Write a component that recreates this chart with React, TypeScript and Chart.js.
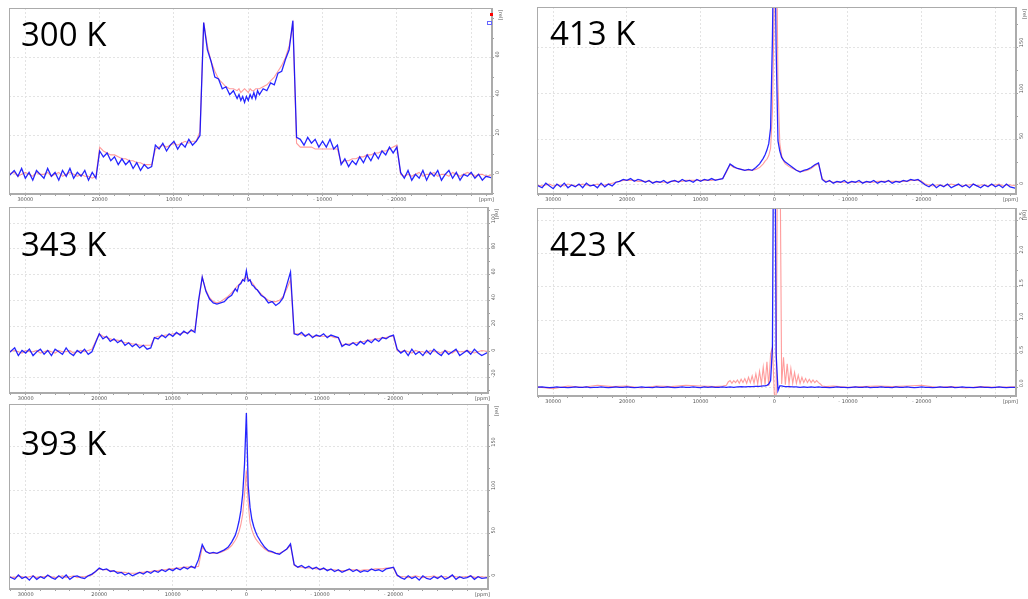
import React, { useEffect, useRef } from 'react';
import { Chart, registerables } from 'chart.js';

Chart.register(...registerables);

// chemical shift grid (ppm) shared by most spectra
const shift = [
  32500, 31500, 31000, 30500, 30000, 29500, 29000, 28500, 28000, 27500,
  27000, 26500, 26000, 25500, 25000, 24500, 24000, 23500, 23000, 22500,
  22000, 21500, 21000, 20500, 20000, 19500, 19000, 18500, 18000, 17500,
  17000, 16500, 16000, 15500, 15000, 14500, 14000, 13500, 13000, 12500,
  12000, 11500, 11000, 10500, 10000, 9500, 9000, 8500, 8000, 7500,
  7000, 6500, 6000, 5500, 5000, 4500, 4000, 3500, 3000, 2500,
  2000, 1500, 1250, 1000, 750, 500, 250, 0, -250, -500,
  -750, -1000, -1250, -1500, -2000, -2500, -3000, -3500, -4000, -4500,
  -5000, -5500, -6000, -6500, -7000, -7500, -8000, -8500, -9000, -9500,
  -10000, -10500, -11000, -11500, -12000, -12500, -13000, -13500, -14000, -14500,
  -15000, -15500, -16000, -16500, -17000, -17500, -18000, -18500, -19000, -19500,
  -20000, -20500, -21000, -21500, -22000, -22500, -23000, -23500, -24000, -24500,
  -25000, -25500, -26000, -26500, -27000, -27500, -28000, -28500, -29000, -29500,
  -30000, -30500, -31000, -31500, -32000, -33000,
];

// 300 K
const blue300 = [
  -2, 2, -1, 3, -2, 1, -3, 2, 0, -2,
  3, -1, 1, -3, 2, -1, 3, -2, 1, -1,
  2, -3, 1, -2, 12, 9, 11, 7, 9, 5,
  8, 5, 7, 3, 6, 2, 5, 3, 4, 15,
  13, 16, 12, 15, 17, 13, 16, 14, 18, 15,
  17, 20, 78, 64, 58, 50, 49, 44, 45, 41,
  43, 39, 41, 38, 40, 37, 40, 38, 41, 39,
  42, 39, 43, 41, 44, 43, 47, 46, 52, 53,
  59, 64, 79, 19, 18, 15, 19, 16, 18, 14,
  17, 14, 18, 13, 15, 5, 8, 4, 7, 5,
  9, 6, 10, 7, 11, 8, 12, 10, 14, 11,
  14, 1, -2, 2, -3, 0, -2, 2, -3, 1,
  -1, 2, -3, 0, 2, -2, 1, -3, 0, -1,
  1, -2, 0, -3, -1, -2,
];
const red300 = [
  0, 1, -1, 0, 1, 0, -1, 1, 0, 0,
  1, -1, 0, 1, -1, 0, 1, 0, -1, 0,
  -1, -1, -2, -1, 14, 12, 11, 10, 10, 9,
  8, 8, 7, 7, 6, 6, 5, 5, 5, 13,
  14, 15, 14, 15, 16, 15, 16, 17, 16, 17,
  17, 22, 78, 66, 58, 53, 49, 47, 45, 44,
  44, 43, 44, 42, 43, 44, 43, 42, 44, 43,
  43, 44, 44, 44, 45, 46, 48, 50, 53, 56,
  60, 66, 77, 16, 14, 14, 14, 14, 13, 13,
  13, 13, 13, 13, 13, 6, 7, 7, 8, 8,
  9, 9, 10, 10, 11, 11, 12, 12, 13, 14,
  15, 0, -1, 0, -1, 0, 1, -1, 0, 0,
  1, -1, 0, 0, -1, 1, 0, -1, 0, 1,
  0, -1, 0, 0, -1, 0,
];

// 343 K
const blue343 = [
  -2, 3, -3, 1, -1, 2, -3, 0, 2, -2,
  1, -3, 2, 0, -2, 3, -1, -3, 1, -1,
  2, -2, 0, 7, 14, 10, 12, 8, 10, 7,
  9, 5, 7, 4, 6, 3, 5, 2, 3, 11,
  10, 13, 11, 14, 12, 15, 13, 16, 14, 17,
  15, 40, 58, 47, 41, 38, 37, 38, 39, 42,
  44, 49, 47, 52, 53, 56, 55, 63, 55, 56,
  52, 51, 49, 48, 44, 42, 38, 39, 36, 38,
  42, 52, 62, 14, 13, 15, 12, 14, 11, 13,
  12, 14, 11, 13, 12, 11, 4, 6, 5, 7,
  5, 8, 6, 9, 7, 10, 8, 11, 10, 12,
  13, 2, -1, 1, -3, 2, -2, 0, -3, 1,
  -2, 2, -1, -3, 1, -2, 0, 2, -3, -1,
  1, -2, 2, -1, -3, 0,
];
const red343 = [
  0, 1, 0, -1, 1, 0, 0, 1, -1, 0,
  1, 0, -1, 1, 0, 0, 1, -1, 0, 1,
  0, 1, 2, 8, 14, 12, 11, 10, 9, 9,
  8, 7, 7, 6, 6, 5, 5, 5, 5, 11,
  12, 12, 13, 13, 14, 14, 14, 15, 15, 16,
  17, 38, 58, 48, 42, 39, 38, 39, 41, 43,
  46, 49, 51, 52, 54, 56, 57, 58, 57, 55,
  54, 52, 50, 48, 45, 42, 40, 39, 39, 40,
  43, 49, 56, 14, 14, 13, 13, 13, 12, 12,
  12, 12, 12, 12, 11, 11, 5, 6, 6, 7,
  7, 8, 8, 9, 9, 10, 10, 11, 11, 12,
  12, 1, 0, 1, 0, -1, 1, 0, 0, -1,
  1, 0, 0, -1, 1, 0, -1, 1, 0, 0,
  1, 0, -1, 0, 1, 0,
];

// 393 K
const blue393 = [
  1, -3, 2, -2, 0, -4, 1, -3, 0, -2,
  2, -1, -3, 1, -2, 2, -3, 0, 1, -1,
  -2, 1, 3, 6, 10, 8, 9, 6, 7, 4,
  5, 2, 4, 1, 3, 5, 3, 6, 4, 7,
  5, 8, 6, 9, 7, 10, 8, 11, 9, 12,
  10, 20, 37, 29, 27, 28, 27, 29, 31, 34,
  40, 48, 55, 64, 76, 95, 130, 189, 105, 80,
  66, 58, 52, 47, 40, 34, 30, 29, 27, 26,
  29, 32, 38, 14, 11, 13, 10, 12, 9, 11,
  8, 10, 7, 9, 6, 8, 5, 7, 9, 6,
  8, 5, 7, 6, 9, 7, 8, 6, 9, 10,
  11, 2, -1, -3, 1, -2, 0, -4, 1, -2,
  -3, 0, -2, 1, -3, -1, 2, -3, 0, -2,
  -1, 1, -3, 0, -2, -1,
];
const red393 = [
  0, -1, 1, 0, -1, 0, 1, -1, 0, 0,
  1, 0, -1, 0, 1, -1, 0, 1, -1, 0,
  0, 1, 2, 6, 9, 8, 8, 7, 6, 6,
  5, 5, 4, 4, 4, 5, 5, 6, 6, 7,
  7, 8, 8, 9, 9, 10, 10, 11, 11, 11,
  11, 12, 34, 29, 27, 27, 27, 28, 30, 32,
  36, 42, 46, 52, 60, 72, 95, 123, 85, 62,
  54, 48, 44, 41, 36, 32, 29, 28, 27, 27,
  29, 32, 36, 13, 11, 11, 10, 10, 10, 9,
  9, 9, 8, 8, 8, 7, 7, 7, 8, 8,
  8, 7, 8, 8, 8, 9, 9, 9, 10, 10,
  10, 1, 0, 0, -1, 0, 1, 0, -1, 0,
  0, 1, -1, 0, 0, -1, 1, 0, -1, 0,
  0, 1, -1, 0, 0, -1,
];

// 413 K
const blue413 = [
  1, -3, 2, -1, -4, 1, -2, 2, -3, 0,
  -2, 1, -3, 2, -1, 0, -3, 2, -2, 1,
  -1, 3, 4, 6, 5, 7, 4, 6, 5, 3,
  5, 2, 4, 3, 5, 2, 4, 5, 3, 6,
  4, 5, 3, 6, 4, 6, 5, 7, 5, 6,
  7, 15, 23, 20, 18, 17, 16, 17, 16, 19,
  23, 29, 33, 38, 45, 62, 160, 320, 150, 48,
  37, 30, 27, 25, 22, 19, 16, 14, 16, 17,
  19, 22, 24, 6, 3, 5, 2, 4, 3, 5,
  2, 4, 3, 5, 2, 4, 3, 5, 2, 4,
  3, 5, 2, 4, 3, 5, 4, 6, 5, 6,
  3, 0, -2, 1, -3, 0, -2, 1, -3, -1,
  1, -2, 0, -3, 1, -1, -3, 0, -2, 1,
  -2, 0, -3, 1, -2, -4,
];
const red413 = [
  0, -1, 0, 1, -1, 0, 0, -1, 1, 0,
  -1, 0, 1, 0, -1, 0, 1, 0, 0, 1,
  2, 3, 4, 5, 5, 5, 5, 4, 4, 4,
  4, 3, 3, 3, 3, 3, 4, 4, 4, 4,
  5, 5, 5, 5, 5, 5, 5, 5, 6, 6,
  7, 14, 22, 19, 18, 17, 16, 16, 16, 17,
  19, 23, 26, 28, 32, 40, 80, 200, 320, 110,
  45, 32, 26, 23, 20, 18, 16, 15, 15, 16,
  18, 21, 23, 7, 4, 4, 3, 3, 3, 3,
  3, 3, 3, 3, 3, 3, 3, 3, 4, 4,
  4, 4, 4, 4, 4, 4, 4, 5, 5, 5,
  4, 1, 0, -1, 0, 0, -1, 0, 1, 0,
  0, -1, 0, 0, 1, -1, 0, 0, -1, 0,
  0, 1, -1, 0, 0, -1,
];

// 423 K
const blue423 = [
  0, 0.005, 0, -0.005, 0, 0.005, 0, 0, -0.005, 0,
  0.005, 0, 0, 0.005, -0.005, 0, 0, 0.005, 0, -0.005,
  0, 0.005, 0, 0, 0.005, 0, -0.005, 0, 0.005, 0,
  0, -0.005, 0.005, 0, 0, 0.005, 0, -0.005, 0, 0.005,
  0, 0, 0.005, 0, -0.005, 0.005, 0, 0.005, 0, 0,
  0.005, 0, 0.005, 0, 0.005, 0.01, 0.005, 0.01, 0.01, 0.015,
  0.015, 0.02, 0.02, 0.03, 0.05, 0.1, 0.6, 6, 0.5, -0.05,
  0.02, 0.02, 0.015, 0.01, 0.01, 0.005, 0.005, 0, 0.005, 0,
  0.005, 0, 0.005, 0, 0, -0.005, 0, 0.005, 0, 0,
  -0.005, 0, 0.005, 0, 0, 0.005, -0.005, 0, 0, 0.005,
  0, 0, -0.005, 0.005, 0, 0, 0.005, 0, -0.005, 0,
  0.005, 0, 0, -0.005, 0, 0.005, 0, 0, 0.005, -0.005,
  0, 0.005, 0, 0, -0.005, 0, 0.005, 0, 0, -0.005,
  0, 0.005, 0, -0.005, 0, 0,
];
const shift423red = [
  32500, 30000, 28000, 26000, 24000, 22000, 20000, 18000, 16000, 14000, 12000, 10000, 8000, 7000,
  6500, 6250, 6000, 5750, 5500, 5250, 5000, 4750, 4500, 4250,
  4000, 3750, 3500, 3250, 3000, 2750, 2500, 2250, 2000, 1750,
  1500, 1250, 1000, 750, 500, 250, 0, -250, -500, -750,
  -1000, -1250, -1500, -1750, -2000, -2250, -2500, -2750, -3000, -3250,
  -3500, -3750, -4000, -4250, -4500, -4750, -5000, -5250, -5500, -5750,
  -6000, -6250,
  -6500, -7000, -8000, -10000, -12000, -14000, -16000, -18000, -20000, -22000, -24000, -26000, -28000, -30000, -33000,
];
const red423 = [
  0.01, -0.02, 0.02, 0, 0.03, 0.01, 0.02, -0.01, 0.02, 0.01, 0.03, 0.02, 0.01, 0.02,
  0.03, 0.08, 0.1, 0.06, 0.1, 0.07, 0.11, 0.06, 0.12, 0.07,
  0.13, 0.06, 0.15, 0.07, 0.17, 0.06, 0.2, 0.05, 0.24, 0.05,
  0.3, 0.04, 0.38, 0.02, 0.5, 0.6, -0.1, -0.15, 5, 4,
  0.05, 0.45, 0.04, 0.35, 0.05, 0.28, 0.06, 0.22, 0.06, 0.18,
  0.06, 0.15, 0.07, 0.13, 0.07, 0.12, 0.07, 0.11, 0.07, 0.1,
  0.07, 0.05,
  0.02, 0.01, 0.02, 0, 0.01, 0.02, 0.01, 0.02, 0.03, 0, 0.01, -0.01, 0.01, 0, 0.01,
];

// tick labels
const xLabelTicks = [30000, 20000, 10000, 0, -10000, -20000];
const xGridTicks = [30000, 20000, 10000, 0, -10000, -20000, -30000];
const yTicks300 = [0, 20, 40, 60];
const yTicks343 = [-20, 0, 20, 40, 60, 80, 100];
const yTicks393 = [0, 50, 100, 150];
const yTicks413 = [0, 50, 100, 150];
const yTicks423 = [0, 0.5, 1, 1.5, 2, 2.5];

const BLUE = 'rgba(0, 0, 255, 0.85)';
const RED = 'rgba(255, 90, 90, 0.6)';
const GRID = '#e3e3e3';
const AXIS_W = 12;
const AXIS_H = 12;

type Series = { xs: number[]; ys: number[]; color: string; width: number; order: number };
type PanelCfg = {
  label: string;
  left: number; top: number; right: number; bottom: number;
  xMin: number; xMax: number;
  yMin: number; yMax: number; yStep: number;
  yLabels: number[]; yDecimals: number;
  series: Series[];
  labelLeft: number; labelTop: number;
  marks?: boolean;
};

const framePlugin = {
  id: 'frame',
  afterDraw(chart: any, _args: any, opts: any) {
    const { ctx, chartArea: a } = chart;
    ctx.save();
    ctx.strokeStyle = '#ababab';
    ctx.lineWidth = 1;
    ctx.strokeRect(a.left + 0.5, a.top + 0.5, a.right - a.left - 1, a.bottom - a.top - 1);
    ctx.fillStyle = '#555';
    ctx.font = '5px "DejaVu Sans"';
    ctx.textAlign = 'right';
    ctx.textBaseline = 'middle';
    ctx.fillText('[ppm]', a.right + 2, a.bottom + 6);
    if (opts && opts.marks) {
      ctx.fillStyle = '#ff0000';
      ctx.fillRect(a.right - 2, a.top + 5, 3, 3);
      ctx.strokeStyle = '#6666ff';
      ctx.strokeRect(a.right - 4.5, a.top + 13.5, 4, 3);
    }
    ctx.fillStyle = '#555';
    ctx.translate(a.right + 8, a.top + 7);
    ctx.rotate(Math.PI / 2);
    ctx.textAlign = 'center';
    ctx.fillText('[rel]', 0, 0);
    ctx.restore();
  },
};

const near = (arr: number[], v: number) => arr.some((t) => Math.abs(t - v) < 1e-6);

function Panel({ cfg }: { cfg: PanelCfg }) {
  const ref = useRef<HTMLCanvasElement>(null);
  const W = cfg.right - cfg.left + 1 + AXIS_W;
  const H = cfg.bottom - cfg.top + 1 + AXIS_H;
  useEffect(() => {
    const chart = new Chart(ref.current as HTMLCanvasElement, {
      type: 'line',
      data: {
        datasets: cfg.series.map((s) => ({
          data: s.xs.map((x, i) => ({ x, y: s.ys[i] })),
          borderColor: s.color,
          borderWidth: s.width,
          pointRadius: 0,
          tension: 0,
          order: s.order,
          clip: 0,
        })),
      },
      options: {
        animation: false,
        responsive: false,
        devicePixelRatio: 1,
        events: [],
        layout: { padding: { left: 1, top: 1, right: 0, bottom: 0 } },
        plugins: {
          legend: { display: false },
          tooltip: { enabled: false },
          frame: { marks: !!cfg.marks },
        } as any,
        scales: {
          x: {
            type: 'linear',
            reverse: true,
            min: cfg.xMin,
            max: cfg.xMax,
            afterBuildTicks: (s: any) => {
              const t = [];
              for (let v = -32000; v <= 32000; v += 2000) {
                if (v >= cfg.xMin && v <= cfg.xMax) t.push({ value: v });
              }
              s.ticks = t;
            },
            afterFit: (s: any) => {
              s.height = AXIS_H;
              s.paddingLeft = 0;
              s.paddingRight = 0;
            },
            grid: {
              color: (c: any) => (c.tick && near(xGridTicks, c.tick.value) ? GRID : 'rgba(0,0,0,0)'),
              tickColor: '#a0a0a0',
              tickLength: 2,
              lineWidth: 1,
            },
            border: { color: '#ababab', dash: [2, 2] },
            ticks: {
              autoSkip: false,
              maxRotation: 0,
              minRotation: 0,
              padding: 1,
              color: '#555',
              font: { size: 5, family: 'DejaVu Sans' },
              callback: (v: any) => {
                const n = Number(v);
                if (!near(xLabelTicks, n)) return '';
                if (n === 0) return '0';
                return n < 0 ? '- ' + String(-n) : String(n);
              },
            },
          },
          y: {
            type: 'linear',
            position: 'right',
            min: cfg.yMin,
            max: cfg.yMax,
            afterBuildTicks: (s: any) => {
              const t = [];
              const start = Math.ceil(cfg.yMin / cfg.yStep);
              for (let k = start; k * cfg.yStep <= cfg.yMax; k++) t.push({ value: +(k * cfg.yStep).toFixed(6) });
              s.ticks = t;
            },
            afterFit: (s: any) => {
              s.width = AXIS_W;
              s.paddingTop = 0;
              s.paddingBottom = 0;
            },
            grid: {
              color: (c: any) => (c.tick && near(cfg.yLabels, c.tick.value) ? GRID : 'rgba(0,0,0,0)'),
              tickColor: '#a0a0a0',
              tickLength: 2,
              lineWidth: 1,
            },
            border: { color: '#ababab', dash: [2, 2] },
            ticks: {
              autoSkip: false,
              minRotation: 90,
              maxRotation: 90,
              padding: 4,
              color: '#555',
              font: { size: 5, family: 'DejaVu Sans' },
              callback: (v: any) => {
                const n = Number(v);
                return near(cfg.yLabels, n) ? n.toFixed(cfg.yDecimals) : '';
              },
            },
          },
        },
      } as any,
      plugins: [framePlugin],
    });
    return () => chart.destroy();
  }, []);
  return (
    <>
      <canvas
        ref={ref}
        width={W}
        height={H}
        style={{ position: 'absolute', left: cfg.left - 1, top: cfg.top - 1, width: W, height: H }}
      />
      <div
        style={{
          position: 'absolute',
          left: cfg.labelLeft,
          top: cfg.labelTop,
          fontFamily: '"Open Sans", sans-serif',
          fontSize: 33,
          lineHeight: '33px',
          color: '#000',
          whiteSpace: 'nowrap',
        }}
      >
        {cfg.label}
      </div>
    </>
  );
}

const pair = (xs: number[], blue: number[], red: number[], redXs?: number[]): Series[] => [
  { xs: redXs || xs, ys: red, color: RED, width: 1.1, order: 1 },
  { xs, ys: blue, color: BLUE, width: 1.3, order: 0 },
];

const panels: PanelCfg[] = [
  {
    label: '300 K', left: 9, top: 8, right: 492, bottom: 194,
    xMin: -32800, xMax: 32200, yMin: -10.1, yMax: 85.5, yStep: 10,
    yLabels: yTicks300, yDecimals: 0, series: pair(shift, blue300, red300),
    labelLeft: 21, labelTop: 17, marks: true,
  },
  {
    label: '343 K', left: 9, top: 207, right: 488, bottom: 393,
    xMin: -32850, xMax: 32270, yMin: -32.1, yMax: 112.6, yStep: 10,
    yLabels: yTicks343, yDecimals: 0, series: pair(shift, blue343, red343),
    labelLeft: 21, labelTop: 227,
  },
  {
    label: '393 K', left: 9, top: 404, right: 488, bottom: 589,
    xMin: -32850, xMax: 32270, yMin: -14.2, yMax: 199.4, yStep: 25,
    yLabels: yTicks393, yDecimals: 0, series: pair(shift, blue393, red393),
    labelLeft: 21, labelTop: 426,
  },
  {
    label: '413 K', left: 537, top: 7, right: 1016, bottom: 194,
    xMin: -32800, xMax: 32200, yMin: -9.8, yMax: 193.8, yStep: 25,
    yLabels: yTicks413, yDecimals: 0, series: pair(shift, blue413, red413),
    labelLeft: 550, labelTop: 16,
  },
  {
    label: '423 K', left: 537, top: 208, right: 1016, bottom: 396,
    xMin: -32800, xMax: 32200, yMin: -0.13, yMax: 2.68, yStep: 0.25,
    yLabels: yTicks423, yDecimals: 1, series: pair(shift, blue423, red423, shift423red),
    labelLeft: 550, labelTop: 227,
  },
];

export default function App() {
  return (
    <div
      style={{
        position: 'absolute',
        left: 0,
        top: 0,
        width: 1028,
        height: 599,
        overflow: 'hidden',
        background: '#fff',
      }}
    >
      {panels.map((p) => (
        <Panel key={p.label} cfg={p} />
      ))}
    </div>
  );
}
